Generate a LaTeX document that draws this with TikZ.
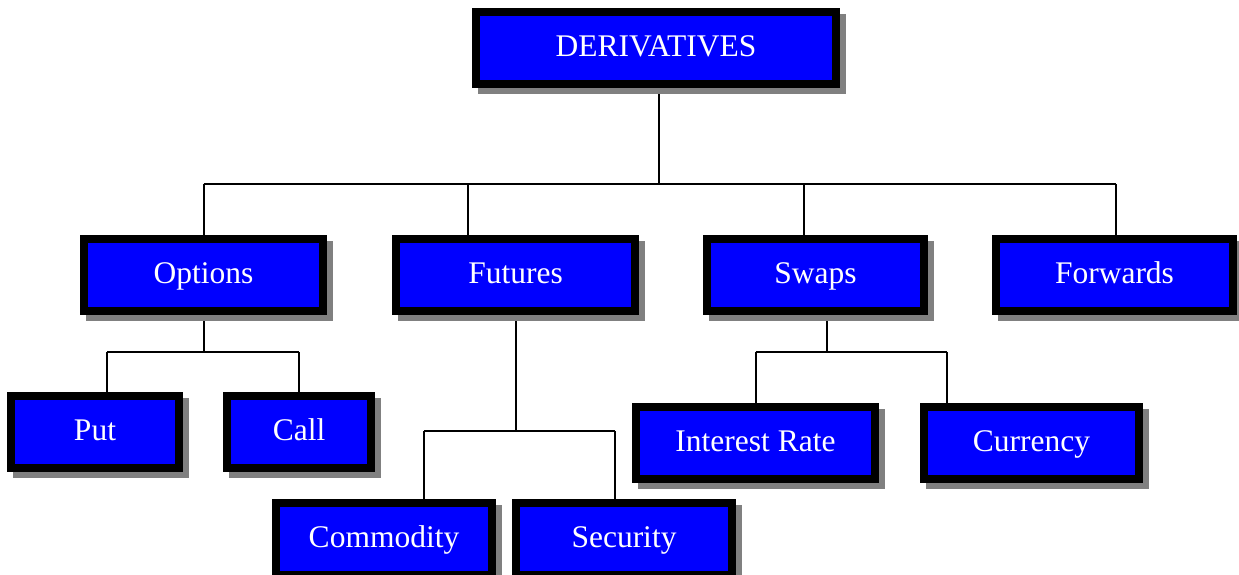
\documentclass[tikz,border=0pt]{standalone}
\usepackage{fontspec}
\setmainfont{Liberation Serif}
\pgfdeclarelayer{bg}
\pgfsetlayers{bg,main}
\tikzset{
  box/.style={draw=black, line width=8pt, fill=blue, text=white,
    font=\fontsize{31.5}{36}\selectfont, inner sep=0pt, outer sep=0pt,
    text height=24pt, text depth=6pt, minimum height=72pt},
  conn/.style={line width=2pt, black},
  shade/.style={fill=gray}
}
\begin{document}
\begin{tikzpicture}[x=1pt,y=1pt]
\useasboundingbox (0,0) rectangle (1239,575);
\node[box, minimum width=360pt] (der) at (656,527) {DERIVATIVES};
\node[box, minimum width=239pt] (opt) at (203.5,300) {Options};
\node[box, minimum width=239pt] (fut) at (515.5,300) {Futures};
\node[box, minimum width=217pt] (swp) at (815.5,300) {Swaps};
\node[box, minimum width=237pt] (fwd) at (1114.5,300) {Forwards};
\node[box, minimum width=168pt] (put) at (95,143) {Put};
\node[box, minimum width=144pt] (call) at (299,143) {Call};
\node[box, minimum width=239pt] (int) at (755.5,132) {Interest Rate};
\node[box, minimum width=215pt] (cur) at (1031.5,132) {Currency};
\node[box, minimum width=216pt] (com) at (384,36) {Commodity};
\node[box, minimum width=216pt] (sec) at (624,36) {Security};
\begin{pgfonlayer}{bg}
% top level
\coordinate (t0) at (659,391);
\coordinate (tl) at (203.5,391);
\coordinate (tr) at (1116,391);
\coordinate (t2) at (468,391);
\coordinate (t3) at (804,391);
\draw[conn] (t0 |- der.south) -- (t0);
\draw[conn] (tl) -- (tr);
\draw[conn] (tl) -- (opt.north);
\draw[conn] (t2) -- (t2 |- fut.north);
\draw[conn] (t3) -- (t3 |- swp.north);
\draw[conn] (tr) -- (tr |- fwd.north);
% options
\coordinate (o0) at (203.5,223);
\coordinate (ol) at (107,223);
\coordinate (or) at (299,223);
\draw[conn] (opt.south) -- (o0);
\draw[conn] (ol) -- (or);
\draw[conn] (ol) -- (ol |- put.north);
\draw[conn] (or) -- (call.north);
% futures
\coordinate (f0) at (515.5,144);
\coordinate (fl) at (424,144);
\coordinate (fr) at (615,144);
\draw[conn] (fut.south) -- (f0);
\draw[conn] (fl) -- (fr);
\draw[conn] (fl) -- (fl |- com.north);
\draw[conn] (fr) -- (fr |- sec.north);
% swaps
\coordinate (s0) at (827,223);
\coordinate (sl) at (755.5,223);
\coordinate (sr) at (947,223);
\draw[conn] (s0 |- swp.south) -- (s0);
\draw[conn] (sl) -- (sr);
\draw[conn] (sl) -- (int.north);
\draw[conn] (sr) -- (sr |- cur.north);
% shadows
\foreach \n in {der,opt,fut,swp,fwd,put,call,int,cur,com,sec}
  \fill[shade] ([shift={(2pt,-10pt)}]\n.south west) rectangle ([shift={(10pt,-2pt)}]\n.north east);
\end{pgfonlayer}
\end{tikzpicture}
\end{document}
